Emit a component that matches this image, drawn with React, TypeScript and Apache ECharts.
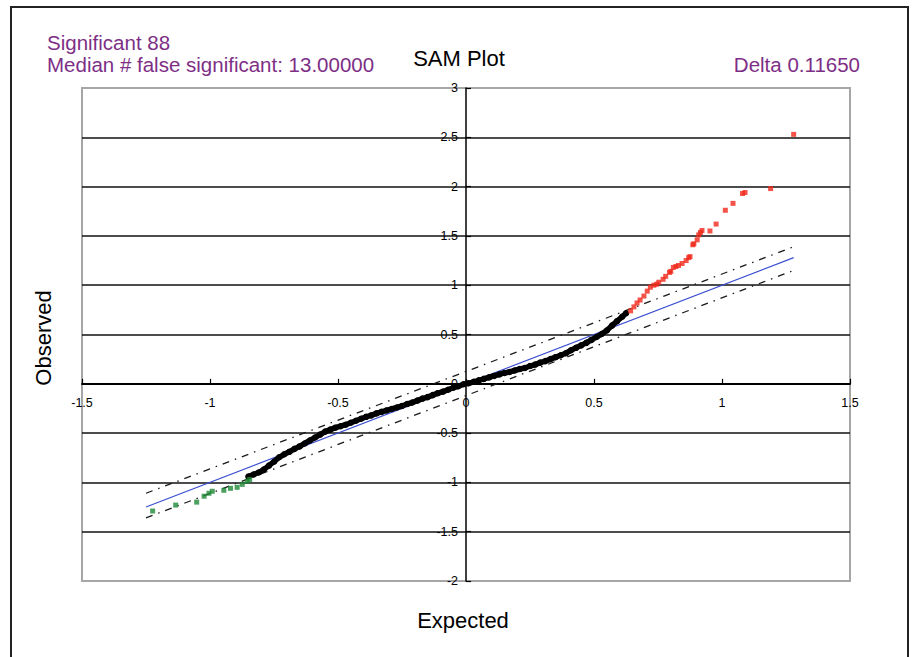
import React, { useEffect, useRef } from "react";
import * as echarts from "echarts";

const xTicks = { min: -1.5, max: 1.5, step: 0.5 };
const yTicks = { min: -2, max: 3, step: 0.5 };

const expectedLine: number[][] = [[-1.25, -1.25], [1.28, 1.28]];
const upperBand: number[][] = [[-1.25, -1.11], [1.28, 1.39]];
const lowerBand: number[][] = [[-1.25, -1.36], [1.28, 1.15]];

const blackPoints: number[][] = [
  [-0.85, -0.94], [-0.83, -0.92], [-0.81, -0.9], [-0.79, -0.87], [-0.77, -0.83],
  [-0.75, -0.79], [-0.73, -0.745], [-0.71, -0.715], [-0.69, -0.69], [-0.67, -0.66],
  [-0.65, -0.635], [-0.63, -0.605], [-0.61, -0.575], [-0.59, -0.545], [-0.57, -0.515],
  [-0.55, -0.485], [-0.53, -0.465], [-0.51, -0.445], [-0.49, -0.43], [-0.47, -0.415],
  [-0.45, -0.395], [-0.43, -0.375], [-0.41, -0.355], [-0.39, -0.335], [-0.37, -0.32],
  [-0.35, -0.3], [-0.33, -0.285], [-0.31, -0.27], [-0.29, -0.255], [-0.27, -0.24],
  [-0.25, -0.225], [-0.23, -0.205], [-0.21, -0.19], [-0.19, -0.17], [-0.17, -0.15],
  [-0.15, -0.135], [-0.13, -0.115], [-0.11, -0.095], [-0.09, -0.08], [-0.07, -0.06],
  [-0.05, -0.04], [-0.03, -0.025], [-0.01, -0.005], [0.01, 0.005], [0.03, 0.02],
  [0.05, 0.035], [0.07, 0.05], [0.09, 0.065], [0.11, 0.08], [0.13, 0.095],
  [0.15, 0.11], [0.17, 0.12], [0.19, 0.135], [0.21, 0.15], [0.23, 0.16],
  [0.25, 0.18], [0.27, 0.195], [0.29, 0.215], [0.31, 0.23], [0.33, 0.25],
  [0.35, 0.27], [0.37, 0.29], [0.39, 0.31], [0.41, 0.34], [0.43, 0.365],
  [0.45, 0.39], [0.47, 0.415], [0.49, 0.445], [0.51, 0.475], [0.53, 0.505],
  [0.55, 0.54], [0.57, 0.59], [0.59, 0.635], [0.61, 0.68], [0.625, 0.715],
];

const redPoints: number[][] = [
  [0.643, 0.74], [0.656, 0.78], [0.668, 0.82], [0.68, 0.85], [0.695, 0.89],
  [0.708, 0.94], [0.72, 0.98], [0.734, 1.0], [0.745, 1.01], [0.753, 1.03],
  [0.77, 1.06], [0.78, 1.09], [0.795, 1.13], [0.8, 1.14], [0.81, 1.18],
  [0.82, 1.19], [0.83, 1.2], [0.844, 1.22], [0.86, 1.25], [0.87, 1.28],
  [0.875, 1.29], [0.886, 1.41], [0.89, 1.42], [0.903, 1.46], [0.909, 1.51],
  [0.916, 1.535], [0.922, 1.555], [0.953, 1.55], [0.977, 1.62], [1.013, 1.76],
  [1.043, 1.83], [1.08, 1.93], [1.09, 1.94], [1.19, 1.98], [1.28, 2.53],
];

const greenPoints: number[][] = [
  [-1.224, -1.29], [-1.134, -1.23], [-1.052, -1.2], [-1.023, -1.14], [-1.004, -1.11],
  [-0.991, -1.09], [-0.946, -1.08], [-0.92, -1.06], [-0.894, -1.05], [-0.874, -1.02],
  [-0.855, -0.99], [-0.845, -0.97],
];

const purple = "#7d2f86";
const font = "'Liberation Sans', Arial, sans-serif";

const W = 915, H = 657;
const G = { left: 82, right: 65, top: 88, bottom: 76 };

export default function App() {
  const ref = useRef<HTMLDivElement>(null);
  useEffect(() => {
    document.body.style.margin = "0";
    const chart = echarts.init(ref.current!, undefined, { renderer: "svg" });
    const dash = { color: "#1a1a1a", width: 1.3, type: [7, 6, 1.5, 6] as number[] };
    const gw = W - G.left - G.right;
    const gh = H - G.top - G.bottom;
    // move axes onto the zero lines of the other axis
    const xOffset = -(gh * (0 - yTicks.min)) / (yTicks.max - yTicks.min);
    const yOffset = -(gw * (0 - xTicks.min)) / (xTicks.max - xTicks.min);
    chart.setOption({
      animation: false,
      backgroundColor: "#ffffff",
      grid: {
        ...G,
        show: true, borderColor: "#a6a6a6", borderWidth: 2,
      },
      xAxis: {
        type: "value", min: xTicks.min, max: xTicks.max, interval: xTicks.step,
        offset: xOffset,
        axisLine: { onZero: false, lineStyle: { color: "#000", width: 2 } },
        axisTick: { show: true, inside: true, length: 5, lineStyle: { color: "#000", width: 1.2 } },
        axisLabel: { margin: 13, color: "#000", fontSize: 12.5, fontFamily: font },
        splitLine: { show: false },
      },
      yAxis: {
        type: "value", min: yTicks.min, max: yTicks.max, interval: yTicks.step,
        offset: yOffset,
        axisLine: { onZero: false, lineStyle: { color: "#000", width: 1.5 } },
        axisTick: { show: true, inside: true, length: 5, lineStyle: { color: "#000", width: 1.2 } },
        axisLabel: { margin: 8, color: "#000", fontSize: 12.5, fontFamily: font },
        splitLine: {
          show: true, showMinLine: false, showMaxLine: false,
          lineStyle: { color: "#111", width: 1.6 },
        },
      },
      graphic: [
        { type: "rect", shape: { x: 11, y: 7, width: 897, height: 700 }, style: { fill: "none", stroke: "#222", lineWidth: 2 }, silent: true },
        { type: "text", style: { text: "Significant 88", x: 47, y: 42, fill: purple, font: `20.5px ${font}`, textAlign: "left", verticalAlign: "middle" } },
        { type: "text", style: { text: "Median # false significant: 13.00000", x: 47, y: 64, fill: purple, font: `20.5px ${font}`, textAlign: "left", verticalAlign: "middle" } },
        { type: "text", style: { text: "SAM Plot", x: 459, y: 58, fill: "#000", font: `22px ${font}`, textAlign: "center", verticalAlign: "middle" } },
        { type: "text", style: { text: "Delta 0.11650", x: 860, y: 64, fill: purple, font: `20.5px ${font}`, textAlign: "right", verticalAlign: "middle" } },
        { type: "text", rotation: Math.PI / 2, x: 43, y: 338, style: { text: "Observed", x: 0, y: 0, fill: "#000", font: `22px ${font}`, textAlign: "center", verticalAlign: "middle" } },
        { type: "text", style: { text: "Expected", x: 463, y: 620, fill: "#000", font: `22px ${font}`, textAlign: "center", verticalAlign: "middle" } },
      ],
      series: [
        { type: "line", data: upperBand, symbol: "none", lineStyle: dash, z: 2 },
        { type: "line", data: lowerBand, symbol: "none", lineStyle: dash, z: 2 },
        { type: "line", data: expectedLine, symbol: "none", lineStyle: { color: "#3b4fd0", width: 1.2 }, z: 2 },
        {
          type: "line", data: blackPoints, symbol: "circle", symbolSize: 6.5, showSymbol: true,
          lineStyle: { color: "#000", width: 5.5 }, itemStyle: { color: "#000" }, z: 3,
        },
        { type: "scatter", data: redPoints, symbol: "rect", symbolSize: 5, itemStyle: { color: "#f0281a" }, z: 4 },
        { type: "scatter", data: greenPoints, symbol: "rect", symbolSize: 5, itemStyle: { color: "#1f8a36" }, z: 4 },
      ],
    });
    return () => chart.dispose();
  }, []);
  return <div ref={ref} style={{ width: W, height: H }} />;
}
